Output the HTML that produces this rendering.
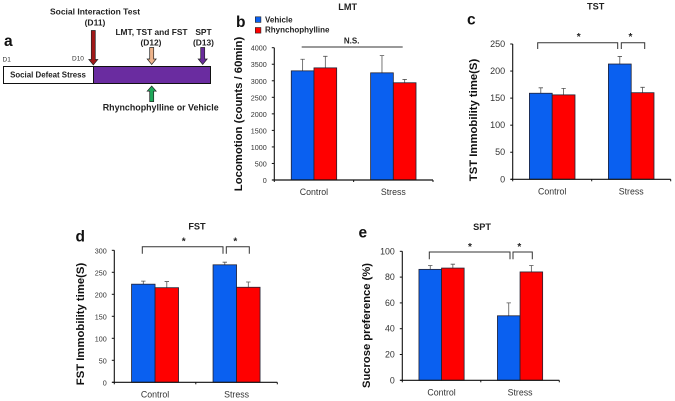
<!DOCTYPE html>
<html lang="en">
<head>
<meta charset="utf-8">
<title>Rhynchophylline behavioural figure</title>
<style>
html,body{margin:0;padding:0;background:#fff;width:675px;height:401px;overflow:hidden}
svg{display:block;font-family:"Liberation Sans",Arial,sans-serif;filter:blur(.3px)}
</style>
</head>
<body>
<svg id="fig" width="675" height="401" viewBox="0 0 675 401" xmlns="http://www.w3.org/2000/svg">
<g>
<text x="4" y="46" font-size="15.5" font-weight="bold" fill="#111">a</text>
<text x="95" y="14.500" font-size="8.500" font-weight="bold" text-anchor="middle" fill="#222">Social Interaction Test</text>
<text x="95" y="25.500" font-size="8.500" font-weight="bold" text-anchor="middle" fill="#222">(D11)</text>
<text x="151.500" y="35" font-size="8.400" font-weight="bold" text-anchor="middle" fill="#222">LMT, TST and FST</text>
<text x="151" y="45.700" font-size="8.400" font-weight="bold" text-anchor="middle" fill="#222">(D12)</text>
<text x="203.500" y="35" font-size="8.400" font-weight="bold" text-anchor="middle" fill="#222">SPT</text>
<text x="203.500" y="45.700" font-size="8.400" font-weight="bold" text-anchor="middle" fill="#222">(D13)</text>
<text x="2.500" y="61.700" font-size="6.500" fill="#333">D1</text>
<text x="72" y="60.500" font-size="6.500" fill="#333">D10</text>
<rect x="3.500" y="66.500" width="90" height="17" fill="#fff" stroke="#111" stroke-width="1"/>
<text x="48" y="77.500" font-size="7.900" font-weight="bold" text-anchor="middle" fill="#222">Social Defeat Stress</text>
<rect x="93.500" y="66.500" width="117" height="17" fill="#6a2ca0" stroke="#111" stroke-width="1"/>
<path d="M91.300 30.500h4v29h2.500l-4.500 5.500-4.500-5.500h2.500z" fill="#a01818" stroke="#222" stroke-width=".7"/>
<path d="M149.700 47.500h4v11.500h2.500l-4.500 5.500-4.500-5.500h2.500z" fill="#eeb48c" stroke="#222" stroke-width=".7"/>
<path d="M200.700 47.500h4v11.500h2.500l-4.500 5.500-4.500-5.500h2.500z" fill="#6a2c9c" stroke="#222" stroke-width=".7"/>
<path d="M149.700 101.700v-10.500h-2.500l4.500-5.200 4.500 5.200h-2.500v10.500z" fill="#1fa85a" stroke="#222" stroke-width=".7"/>
<text x="160.700" y="110.700" font-size="8.900" font-weight="bold" text-anchor="middle" fill="#222">Rhynchophylline or Vehicle</text>
</g>
<g>
<rect x="255.300" y="16.800" width="5.600" height="5.600" fill="#0a60f0" stroke="#222" stroke-width=".6"/>
<text x="265" y="22.700" font-size="8" font-weight="bold" fill="#222">Vehicle</text>
<rect x="255.300" y="27.500" width="5.600" height="5.600" fill="#ff0000" stroke="#222" stroke-width=".6"/>
<text x="265" y="32.700" font-size="8" font-weight="bold" fill="#222">Rhynchophylline</text>
</g>
<g fill="none" stroke="#333" stroke-width="1">
<path d="M301.700 47H402.700"/>
<path d="M537.700 49V42.700H617.700V49"/>
<path d="M621.300 49V42.700H644.700V49"/>
<path d="M142.300 253.700V246.700H223V253.700"/>
<path d="M226.300 253.700V246.700H249.300V253.700"/>
<path d="M429.300 259.300V252H510V259.300"/>
<path d="M513 259.300V252H532.300V259.300"/>
</g>
<g font-weight="bold" text-anchor="middle" fill="#222">
<text x="351.700" y="43.500" font-size="8">N.S.</text>
<text x="578.700" y="40" font-size="10">*</text>
<text x="630.500" y="40" font-size="10">*</text>
<text x="183.700" y="244.500" font-size="10">*</text>
<text x="235.300" y="244.500" font-size="10">*</text>
<text x="470" y="250" font-size="10">*</text>
<text x="519.300" y="250" font-size="10">*</text>
</g>
</svg>
<script>
// Shared categories
const categories = ['Control', 'Stress'];

// LMT values
const lmtVehicle = [3300, 3240];
const lmtDrug = [3390, 2940];
const lmtVehicleErr = [350, 520];
const lmtDrugErr = [350, 100];
const lmtTicks = [0, 500, 1000, 1500, 2000, 2500, 3000, 3500, 4000];

// TST values
const tstVehicle = [159, 213];
const tstDrug = [156, 160];
const tstVehicleErr = [10, 14];
const tstDrugErr = [12, 10];
const tstTicks = [0, 50, 100, 150, 200, 250];

// FST values
const fstVehicle = [223, 267];
const fstDrug = [215, 216];
const fstVehicleErr = [7, 6];
const fstDrugErr = [14, 12];
const fstTicks = [0, 50, 100, 150, 200, 250, 300];

// SPT values
const sptVehicle = [86, 50];
const sptDrug = [87, 84];
const sptVehicleErr = [3, 10];
const sptDrugErr = [3, 5];
const sptTicks = [0, 20, 40, 60, 80, 100];

const NS = 'http://www.w3.org/2000/svg';
const fig = document.getElementById('fig');

function make(parent, tag, attrs, text) {
  const el = document.createElementNS(NS, tag);
  for (const k in attrs) el.setAttribute(k, attrs[k]);
  if (text !== undefined) el.textContent = text;
  parent.appendChild(el);
  return el;
}

function drawChart(c) {
  const g = make(fig, 'g', {});
  
  

  const maxV = c.ticks[c.ticks.length - 1];
  const y = v => c.y0 - (v / maxV) * (c.y0 - c.yTop);
  const groupW = (c.right - c.left) / categories.length;
  const x = i => c.left + groupW * i + groupW / 2;
  const barW = c.barW;

  const title = make(g, 'text', {x: c.titleX, y: c.titleY, 'font-size': 9.2, 'font-weight': 'bold', 'text-anchor': 'middle', fill: '#222'}, c.title);
  
  

  const letter = make(g, 'text', {x: c.letterX, y: c.letterY, 'font-size': 15.5, 'font-weight': 'bold', fill: '#111'}, c.letter);
  
  

  const yTitle = make(g, 'text', {x: 0, y: 0, transform: 'translate(' + c.yTitleX + ' ' + c.yTitleY + ') rotate(-90)', 'font-size': c.yTitleSize, 'font-weight': 'bold', 'text-anchor': 'middle', fill: '#111'}, c.yLabel);
  
  

  const drawBar = (i, offset, val, err, color, key) => {
    const bx = x(i) + offset * barW;
    const cx = bx + barW / 2;
    const eb = make(g, 'path', {d: 'M' + cx + ' ' + y(val) + 'V' + y(val + err) + 'M' + (cx - 2.2) + ' ' + y(val + err) + 'H' + (cx + 2.2), stroke: '#555', 'stroke-width': 0.8, fill: 'none'});
    
    
    const bar = make(g, 'rect', {x: bx, y: y(val), width: barW, height: c.y0 - y(val), fill: color, stroke: '#223', 'stroke-width': 0.8});
    
    
  };

  categories.forEach((cat, i) => {
    drawBar(i, -1, c.vehicle[i], c.vehicleErr[i], '#0a60f0', c.id + '-vehicle-' + cat.toLowerCase());
    drawBar(i, 0, c.drug[i], c.drugErr[i], '#ff0000', c.id + '-drug-' + cat.toLowerCase());
    const label = make(g, 'text', {x: x(i), y: c.y0 + 15, 'font-size': 8.8, 'text-anchor': 'middle', fill: '#333'}, cat);
    
    
  });

  const yAxis = make(g, 'path', {d: 'M' + c.left + ' ' + c.y0 + 'V' + c.yTop, stroke: '#111', 'stroke-width': 1.1, fill: 'none'});
  
  
  const xAxis = make(g, 'path', {d: 'M' + (c.left - 2) + ' ' + c.y0 + 'H' + c.right, stroke: '#111', 'stroke-width': 1.2, fill: 'none'});
  
  
  for (let i = 0; i <= categories.length; i++) {
    const tx = c.left + groupW * i;
    const tick = make(g, 'path', {d: 'M' + tx + ' ' + c.y0 + 'v2', stroke: '#111', 'stroke-width': 1});
    
    
  }

  c.ticks.forEach(t => {
    const tick = make(g, 'path', {d: 'M' + (c.left - 2.5) + ' ' + y(t) + 'H' + c.left, stroke: '#111', 'stroke-width': 1});
    
    
    const label = make(g, 'text', {x: c.left - 7.5, y: y(t) + 3, 'font-size': c.tickSize, 'text-anchor': 'end', fill: '#333'}, t);
    
    
  });
}

drawChart({id: 'lmt', title: 'LMT', letter: 'b', titleX: 347.7, titleY: 10, letterX: 236, letterY: 27,
  left: 274.3, right: 433, y0: 180, yTop: 47.7, barW: 22.7,
  yLabel: 'Locomotion (counts / 60min)', yTitleX: 242, yTitleY: 114, yTitleSize: 11.3, tickSize: 7.2,
  vehicle: lmtVehicle, drug: lmtDrug, vehicleErr: lmtVehicleErr, drugErr: lmtDrugErr, ticks: lmtTicks});

drawChart({id: 'tst', title: 'TST', letter: 'c', titleX: 595.7, titleY: 9.5, letterX: 467, letterY: 24.5,
  left: 512.7, right: 670.7, y0: 179.3, yTop: 44, barW: 22.8,
  yLabel: 'TST Immobility time(S)', yTitleX: 477, yTitleY: 120, yTitleSize: 11.3, tickSize: 9,
  vehicle: tstVehicle, drug: tstDrug, vehicleErr: tstVehicleErr, drugErr: tstDrugErr, ticks: tstTicks});

drawChart({id: 'fst', title: 'FST', letter: 'd', titleX: 197, titleY: 229.5, letterX: 75.5, letterY: 241.7,
  left: 114.3, right: 277.3, y0: 382.3, yTop: 250.3, barW: 23.5,
  yLabel: 'FST Immobility time(S)', yTitleX: 84, yTitleY: 324, yTitleSize: 11.3, tickSize: 7.2,
  vehicle: fstVehicle, drug: fstDrug, vehicleErr: fstVehicleErr, drugErr: fstDrugErr, ticks: fstTicks});

drawChart({id: 'spt', title: 'SPT', letter: 'e', titleX: 482, titleY: 230, letterX: 358.5, letterY: 237.7,
  left: 402.3, right: 559.3, y0: 380.3, yTop: 251.3, barW: 22.6,
  yLabel: 'Sucrose preference (%)', yTitleX: 370, yTitleY: 325.5, yTitleSize: 11.2, tickSize: 8.8,
  vehicle: sptVehicle, drug: sptDrug, vehicleErr: sptVehicleErr, drugErr: sptDrugErr, ticks: sptTicks});
</script>
</body>
</html>
